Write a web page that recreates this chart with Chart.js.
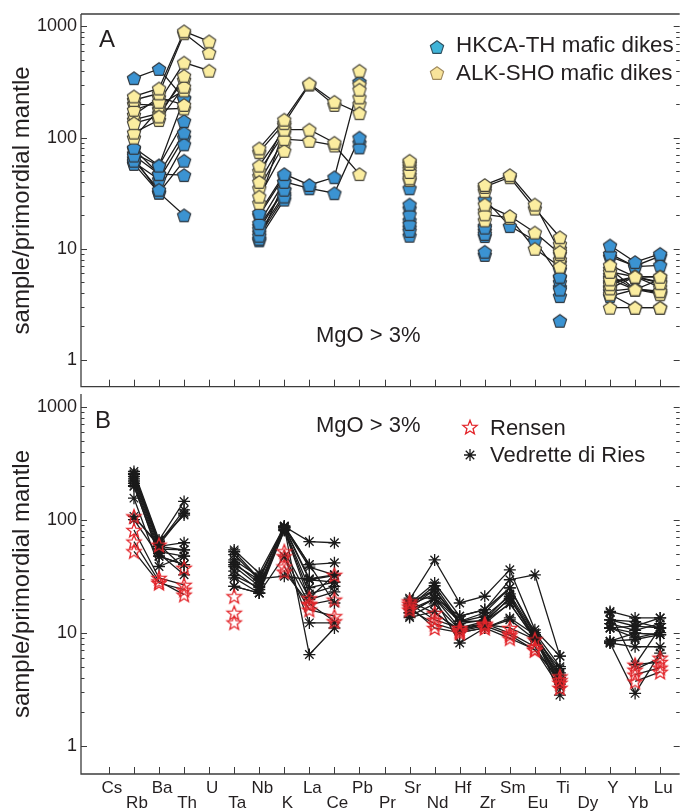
<!DOCTYPE html>
<html>
<head>
<meta charset="utf-8">
<script src="https://cdn.jsdelivr.net/npm/chart.js@4.4.1/dist/chart.umd.min.js"></script>
<style>
html, body { margin: 0; padding: 0; background: #fff; }
#wrap { position: relative; width: 688px; height: 812px; overflow: hidden; font-family: "Liberation Sans", Arial, sans-serif; color: #231f20; }
#wrap canvas { position: absolute; left: 0; }
.t { position: absolute; white-space: nowrap; line-height: 1; }
</style>
</head>
<body>
<div id="wrap">
  <canvas id="chartA" width="688" height="395" style="top:0px"></canvas>
  <canvas id="chartB" width="688" height="432" style="top:380px"></canvas>
  <div class="t" style="left:99px;top:27px;font-size:24px">A</div>
  <div class="t" style="left:95px;top:408px;font-size:24px">B</div>
  <div class="t" style="left:316px;top:324px;font-size:22px">MgO &gt; 3%</div>
  <div class="t" style="left:316px;top:414px;font-size:22px">MgO &gt; 3%</div>
  <div class="t" style="left:456px;top:34px;font-size:22.4px">HKCA-TH mafic dikes</div>
  <div class="t" style="left:456px;top:62px;font-size:22.4px">ALK-SHO mafic dikes</div>
  <div class="t" style="left:490px;top:417px;font-size:22px">Rensen</div>
  <div class="t" style="left:490px;top:444px;font-size:22px">Vedrette di Ries</div>
</div>
<script>
"use strict";
const _ = null;
// Cs Rb Ba Th U Ta Nb K La Ce Pb Pr Sr Nd Hf Zr Sm Eu Ti Dy Y Yb Lu
const elements = ["Cs", "Rb", "Ba", "Th", "U", "Ta", "Nb", "K", "La", "Ce", "Pb", "Pr", "Sr", "Nd", "Hf", "Zr", "Sm", "Eu", "Ti", "Dy", "Y", "Yb", "Lu"];
const yMajorTicks = [1, 10, 100, 1000];
const yMinorSteps = [2, 3, 4, 5, 6, 7, 8, 9];

// panel A
const hkcaTh = [
    [_, 343, 415, 225, _, _, 21, 47, 37.5, 44, 317, _, 35, _, _, 27.8, 16, 11.9, 5.6, _, 10.7, 7.6, 9],
    [_, 81, 56, 141, _, _, 17, 40, 35, 31.6, 100, _, 25, _, _, 15.5, _, _, 4.3, _, 9, 6.9, 7.1],
    [_, 69, 47, 111, _, _, 15, 34, _, _, 81.6, _, 20.4, _, _, 13.6, _, _, 3.75, _, 4.15, 4.4, 4.0],
    [_, 62, 34, 87, _, _, 13.1, 29.5, _, _, _, _, 16.7, _, _, 9.4, _, _, 2.25, _, 3.75, 4.3, 4.15],
    [_, 58, 32, 62, _, _, 12.3, 27.7, _, _, _, _, 14.5, _, _, 8.8, _, _, 5.0, _, 5.0, 5.6, 5.0],
    [_, 79, 47, 46, _, _, 11.9, 40, _, _, _, _, 13.1, _, _, 16, _, _, 6.5, _, 5.5, _, _],
    [_, 65, 32, 20, _, _, 16, 34, _, _, _, _, 23, _, _, 14.5, _, _, 5.5, _, 8.5, 7, 8.6],
    [_, 72, 56, 225, _, _, 20, 45, _, _, _, _, 18, _, _, 13, _, _, 4.5, _, _, _, _],
    [_, 60, 42, 100, _, _, 14, 31, _, _, 90, _, 15.5, _, _, _, _, _, _, _, 4.5, _, _]
];
const alkSho = [
    [_, 235, 277, 905, 735, _, 80, 145, 306, 210, 166, _, 62, _, _, 37.5, 46, 25, 9.4, _, 7.1, 5.6, 5.6],
    [_, 218, 250, 870, 580, _, 74, 135, 300, 197, _, _, 58, _, _, 36, 44, 23, 12.7, _, 6.2, 5.6, 4.9],
    [_, 178, 210, 473, 400, _, 56, 118, 118, 90, _, _, 49, _, _, 25, 19.7, 14, 9.0, _, 5.3, 4.3, 4.15],
    [_, 135, 155, 360, _, _, 40, 97, 93.5, 85, 47, _, 43, _, _, 20.4, 19, 10, 6.9, _, 2.95, 2.95, 2.95],
    [_, 111, 144, 287, _, _, 29.5, 76, _, _, 400, _, 41.5, _, _, 18, _, _, 11, _, 6.6, 4.3, 5.3],
    [_, 200, 195, 266, _, _, 25.8, 120, _, _, 270, _, 60, _, _, 33, _, _, 8, _, 4.8, 5.6, 4.5],
    [_, 160, 230, 197, _, _, 50, 110, _, _, 230, _, 52, _, _, 35, _, _, 7.5, _, 5.8, 4.3, 3.9],
    [_, 100, 180, 183, _, _, 35, 88, _, _, 300, _, 46, _, _, 22, _, _, 10, _, 4.4, 5.6, 5.6],
    [_, 145, 165, 330, _, _, 45, 130, _, _, 200, _, 55, _, _, _, _, _, _, _, 3.9, 2.95, 2.95]
];

// panel B
const vedrette = [
    [_, 267, 66, 145, _, 54, 33.6, 87, 64, 62.5, _, _, 19.6, 44, 18.3, 21, 36, 10.6, 6.2, _, 15.4, 13.5, 13.5],
    [_, 250, 62, 122, _, 49, 29.4, 88, 40, 41.5, _, _, 18, 27.5, 14, 16, 29.4, 32.5, 6.2, _, 13, 11.4, 13.5],
    [_, 240, 60, 114, _, 44, 31, 85, 38, 32.5, _, _, 17, 26, 12.6, 15, 24.9, 10, 5.0, _, 13, 12.5, 11],
    [_, 230, 58, 62.5, _, 42, 27, 84, 29.4, 32, _, _, 16.5, 24, 12, 13, 22, 9.6, 4.4, _, 11, 9.9, 9.6],
    [_, 220, 55, 54, _, 38.5, 25.7, 82, 25, 28, _, _, 15, 20.2, 11, 12.6, 20.2, 9, 4.0, _, 11, 9, 10],
    [_, 210, 52, 47.5, _, 35, 24, 81, 22, 25.7, _, _, 14, 18, 10.6, 12, 18.3, 8.7, 3.7, _, 8.4, 8.7, 9.6],
    [_, 200, 47.5, 40, _, 30.5, 22.4, 80, 19.6, 23, _, _, 13.6, 15.4, 10, 11, 13, 8.7, 3.3, _, 8.1, 7.5, 7.5],
    [_, 197, 50, 32.5, _, 25.7, 22.4, 47.5, 12.2, 12.2, _, _, 15, 20, 8.1, 11, 13.5, 9.6, 2.8, _, 8.1, 2.9, 6.6],
    [_, 155, 38.5, 47.5, _, 32, 25, 85, 6.4, 11, _, _, 18, 24, 12.6, 12.6, 20, 9, 4.8, _, 15, 5.2, 11],
    [_, 107, 58, 54, _, 25.7, 22.4, 87, 40, 18.3, _, _, 20.2, 20.2, 14, 16, 24.9, 9.6, 4.2, _, 11, 11.4, 11],
    [_, 100, 47.5, 40, _, 40, 29.4, 86, 30, 32.5, _, _, 16, 20, 12.6, 12.6, 18, 9, 3.8, _, 8.4, 9.9, 9.6],
    [_, 255, 64, 110, _, 52, 30, 31.6, 29.4, 28, _, _, 17.5, 22, 12.5, 14, 21, 9.2, 3.5, _, 12, 10.5, 12]
];
const rensen = [
    [_, 107, 60, 37.5, _, 21, _, 52.5, 20.2, 32.5, _, _, 18.9, 14.9, 10.6, 11.8, 11, 8.7, 4.1, _, _, 4.7, 6.0],
    [_, 81, 30.5, 26.5, _, 15, _, 47.5, 17.7, 19.6, _, _, 18, 13, 11, 12, 9.9, 7.5, 3.6, _, _, 4.25, 4.9],
    [_, 64, 28.5, 21.7, _, 12.3, _, 38.5, 16, 14, _, _, 17, 11, 10, 11, 8.9, 7.1, 3.25, _, _, 3.7, 4.5],
    [_, 52.5, 27.5, 24, _, _, _, 34.7, 18, 12.6, _, _, 16, 12, 10.3, 11.5, 9.5, 7.0, 3.8, _, _, 5.2, 5.5]
];

const FONT = "'Liberation Sans', Arial, sans-serif";
const INK = "#231f20";

function pentagonMark(fill, stroke, r) {
    const s = 2 * Math.ceil(r + 2);
    const c = document.createElement("canvas");
    c.width = s; c.height = s;
    const g = c.getContext("2d");
    g.beginPath();
    for (let k = 0; k < 5; k++) {
        const a = -Math.PI / 2 + k * 2 * Math.PI / 5;
        const px = s / 2 + r * Math.cos(a), py = s / 2 + 0.1 * r + r * Math.sin(a);
        k ? g.lineTo(px, py) : g.moveTo(px, py);
    }
    g.closePath();
    g.fillStyle = fill; g.fill();
    g.lineWidth = 1.1; g.lineJoin = "round"; g.strokeStyle = stroke; g.stroke();
    return c;
}

function starMark(color, R, r) {
    const s = 2 * Math.ceil(R + 2);
    const c = document.createElement("canvas");
    c.width = s; c.height = s;
    const g = c.getContext("2d");
    g.beginPath();
    for (let k = 0; k < 10; k++) {
        const a = -Math.PI / 2 + k * Math.PI / 5, rr = k % 2 ? r : R;
        const px = s / 2 + rr * Math.cos(a), py = s / 2 + 0.1 * R + rr * Math.sin(a);
        k ? g.lineTo(px, py) : g.moveTo(px, py);
    }
    g.closePath();
    g.lineWidth = 1.3; g.strokeStyle = color; g.stroke();
    return c;
}

function asteriskMark(color, r) {
    const s = 2 * Math.ceil(r + 2);
    const c = document.createElement("canvas");
    c.width = s; c.height = s;
    const g = c.getContext("2d");
    g.beginPath();
    for (let k = 0; k < 4; k++) {
        const a = k * Math.PI / 4;
        g.moveTo(s / 2 - r * Math.cos(a), s / 2 - r * Math.sin(a));
        g.lineTo(s / 2 + r * Math.cos(a), s / 2 + r * Math.sin(a));
    }
    g.lineWidth = 1.3; g.strokeStyle = color; g.stroke();
    return c;
}

const blueMark = pentagonMark("#3b93d2", "#30363c", 7);
const yellowMark = pentagonMark("#fbeda0", "#45433a", 7);
const redStar = starMark("#e3262b", 7.5, 3.2);

function placeMark(mark, cx, cy) {
    mark.style.left = (cx - mark.width / 2) + "px";
    mark.style.top = (cy - mark.height / 2) + "px";
    document.getElementById("wrap").appendChild(mark);
}
placeMark(pentagonMark("#40b4d8", "#2f4f5e", 7), 437, 47);
placeMark(pentagonMark("#f8e39a", "#a08a5e", 7), 437, 73);
placeMark(starMark("#e3262b", 7.5, 3.2), 470, 427);
placeMark(asteriskMark("#1a1a1a", 6), 470, 455);

const yTicks = [];
yMajorTicks.forEach(function (d) {
    yTicks.push(d);
    if (d < 1000) yMinorSteps.forEach(function (m) { yTicks.push(m * d); });
});

const framePlugin = {
    id: "frame",
    afterDraw: function (chart, args, opts) {
        const ctx = chart.ctx, a = chart.chartArea, x = chart.scales.x, y = chart.scales.y;
        ctx.save();
        ctx.strokeStyle = "#3c3c3c";
        ctx.lineWidth = 1.3;
        ctx.beginPath();
        if (opts.top) { ctx.moveTo(a.right, a.top); ctx.lineTo(a.left, a.top); }
        ctx.moveTo(a.left, a.top);
        ctx.lineTo(a.left, a.bottom);
        ctx.lineTo(a.right, a.bottom);
        ctx.stroke();
        ctx.lineWidth = 1;
        ctx.beginPath();
        y.ticks.forEach(function (t) {
            const py = Math.round(y.getPixelForValue(t.value)) + 0.5;
            const len = yMajorTicks.includes(t.value) ? 6 : 3.5;
            ctx.moveTo(a.left, py); ctx.lineTo(a.left + len, py);
            ctx.moveTo(a.right, py); ctx.lineTo(a.right - len, py);
        });
        elements.forEach(function (e, i) {
            const px = Math.round(x.getPixelForValue(i)) + 0.5;
            ctx.moveTo(px, a.bottom); ctx.lineTo(px, a.bottom - 7);
        });
        ctx.stroke();
        ctx.restore();
    }
};

function toPoints(row) {
    return row.map(function (v, i) { return { x: i, y: v }; });
}

function makePanel(id, groups, yMin, axisHeight, showLabels, topLine) {
    const datasets = [];
    groups.forEach(function (g) {
        g.rows.forEach(function (row) {
            datasets.push({ data: toPoints(row), showLine: true, borderColor: "#1c1c1c", borderWidth: 1.3, pointRadius: 0, order: 3 });
        });
    });
    groups.forEach(function (g) {
        g.rows.forEach(function (row) {
            datasets.push({
                data: toPoints(row), showLine: false, order: g.order,
                pointStyle: g.mark, pointRadius: g.radius || 7,
                pointBorderColor: g.color || "#1a1a1a", pointBorderWidth: 1.3, pointBackgroundColor: "transparent"
            });
        });
    });
    return new Chart(document.getElementById(id), {
        type: "line",
        data: { datasets: datasets },
        options: {
            responsive: false,
            animation: false,
            events: [],
            layout: { padding: { top: 14, left: 0, right: 0, bottom: 0 } },
            plugins: { legend: { display: false }, tooltip: { enabled: false }, frame: { top: topLine } },
            scales: {
                x: {
                    type: "linear", min: -1.114, max: 22.78, bounds: "data",
                    grid: { display: false, drawTicks: false }, border: { display: false },
                    ticks: {
                        display: showLabels, autoSkip: false, maxRotation: 0, minRotation: 0,
                        padding: 7, labelOffset: 3, color: INK,
                        font: { family: FONT, size: 17, lineHeight: "15px" },
                        callback: function (v) {
                            const i = Math.round(v);
                            return i % 2 ? ["", elements[i]] : [elements[i]];
                        }
                    },
                    afterBuildTicks: function (s) { s.ticks = elements.map(function (e, i) { return { value: i }; }); },
                    afterFit: function (s) { s.height = axisHeight; s.paddingLeft = s.paddingRight = s.paddingTop = s.paddingBottom = 0; }
                },
                y: {
                    type: "logarithmic", min: yMin, max: 1295, bounds: "data",
                    grid: { display: false, drawTicks: false }, border: { display: false },
                    ticks: {
                        autoSkip: false, padding: 4, color: INK,
                        font: { family: FONT, size: 18, lineHeight: 1 },
                        callback: function (v) { return yMajorTicks.includes(v) ? String(v) : ""; }
                    },
                    title: {
                        display: true, text: "sample/primordial mantle", color: INK,
                        font: { family: FONT, size: 24, lineHeight: 1.2 }, padding: { top: 8, bottom: 0 }
                    },
                    afterBuildTicks: function (s) { s.ticks = yTicks.map(function (v) { return { value: v }; }); },
                    afterFit: function (s) { s.width = 81; s.paddingLeft = s.paddingRight = s.paddingTop = s.paddingBottom = 0; }
                }
            }
        },
        plugins: [framePlugin]
    });
}

makePanel("chartA", [
    { rows: hkcaTh, mark: blueMark, order: 2 },
    { rows: alkSho, mark: yellowMark, order: 1 }
], 0.574, 1, false, true);

makePanel("chartB", [
    { rows: vedrette, mark: "star", radius: 6, color: "#1a1a1a", order: 2 },
    { rows: rensen, mark: redStar, order: 1 }
], 0.561, 38, true, false);
</script>
</body>
</html>
